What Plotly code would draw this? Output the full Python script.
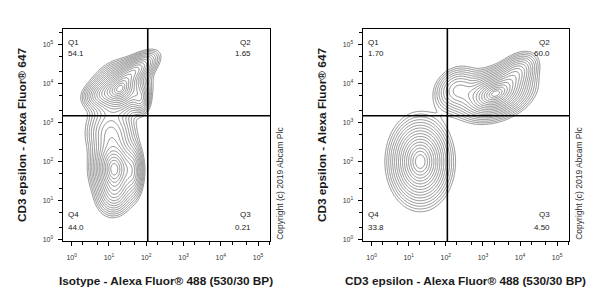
import numpy as np
import plotly.graph_objects as go

# ---- data: cell populations (log10 centres, log10 spreads, correlation, weight) ----
# left panel (Isotype)
left_cx = [1.30, 1.75, 0.75, 1.85, 1.14, 1.05, 1.15, 1.65]
left_cy = [3.85, 4.38, 3.72, 3.60, 1.82, 2.75, 1.15, 1.75]
left_sx = [0.34, 0.28, 0.24, 0.13, 0.28, 0.32, 0.24, 0.14]
left_sy = [0.31, 0.22, 0.18, 0.20, 0.38, 0.35, 0.28, 0.35]
left_rho = [0.2, 0.6, 0.2, 0.0, 0.0, 0.0, 0.1, 0.0]
left_w = [1.00, 0.50, 0.25, 0.30, 0.95, 0.35, 0.30, 0.30]
# right panel (CD3 epsilon)
right_cx = [1.31, 3.32, 2.30, 3.90]
right_cy = [2.00, 3.73, 3.85, 4.28]
right_sx = [0.37, 0.45, 0.30, 0.28]
right_sy = [0.50, 0.30, 0.28, 0.25]
right_rho = [0.0, 0.3, 0.2, 0.4]
right_w = [1.00, 1.05, 0.35, 0.40]

left_q = ["54.1", "1.65", "0.21", "44.0"]    # Q1, Q2, Q3, Q4
right_q = ["1.70", "60.0", "4.50", "33.8"]
quad_x = 110.0
quad_y = 1500.0
tick_exp = [0, 1, 2, 3, 4, 5]
x_titles = ["Isotype - Alexa Fluor® 488 (530/30 BP)", "CD3 epsilon - Alexa Fluor® 488 (530/30 BP)"]
y_title = "CD3 epsilon - Alexa Fluor® 647"
copyright_txt = "Copyright (c) 2019 Abcam Plc"

W, H = 600, 300
gx = np.linspace(-0.3, 5.4, 260)
gy = np.linspace(-0.1, 5.45, 260)
GX, GY = np.meshgrid(gx, gy)


def level_field(cx, cy, sx, sy, rho, w):
    d = np.zeros_like(GX)
    for a, b, s, t, r, ww in zip(cx, cy, sx, sy, rho, w):
        u = (GX - a) / s
        v = (GY - b) / t
        q = (u * u - 2 * r * u * v + v * v) / (1 - r * r)
        d += ww * np.exp(-0.5 * q)
    # "radius-like" contour variable so that levels are evenly spaced
    return -np.sqrt(2 * np.log(d.max() / (d + 1e-300)))


fig = go.Figure()
for i, z in enumerate([
    level_field(left_cx, left_cy, left_sx, left_sy, left_rho, left_w),
    level_field(right_cx, right_cy, right_sx, right_sy, right_rho, right_w),
]):
    fig.add_trace(go.Contour(
        x=10 ** gx, y=10 ** gy, z=z,
        xaxis="x" if i == 0 else "x2", yaxis="y" if i == 0 else "y2",
        contours=dict(start=-2.6, end=-0.15, size=0.14, coloring="lines"),
        colorscale=[[0, "#727272"], [1, "#727272"]],
        line=dict(width=0.8), showscale=False, hoverinfo="skip",
    ))

ticktext = [f"10<sup>{e}</sup>" for e in tick_exp]
tickvals = [10 ** e for e in tick_exp]
ax_common = dict(
    type="log", showgrid=False, zeroline=False, showline=True, mirror=True,
    linecolor="black", linewidth=1.2, ticks="outside", ticklen=4, tickwidth=1,
    tickcolor="black", tickvals=tickvals, ticktext=ticktext,
    tickfont=dict(family="Liberation Sans", size=7, color="#333"),
    minor=dict(ticks="outside", ticklen=2.5, tickcolor="black", tickwidth=0.8, showgrid=False),
)
xr = [-0.24, 5.32]
yr = [-0.04, 5.40]
y0, y1 = 1 - 242.7 / H, 1 - 29.3 / H
dom = [(62.7 / W, 270 / W), (362.7 / W, 569 / W)]
layout = dict(
    width=W, height=H, margin=dict(l=0, r=0, t=0, b=0),
    paper_bgcolor="white", plot_bgcolor="white", showlegend=False,
    xaxis=dict(ax_common, domain=dom[0], range=xr, anchor="y", ticklabelstandoff=5),
    yaxis=dict(ax_common, domain=[y0, y1], range=yr, anchor="x", ticklabelstandoff=3),
    xaxis2=dict(ax_common, domain=dom[1], range=xr, anchor="y2", ticklabelstandoff=5),
    yaxis2=dict(ax_common, domain=[y0, y1], range=yr, anchor="x2", ticklabelstandoff=3),
)
fig.update_layout(**layout)

title_font = dict(family="Liberation Sans", size=11.8, color="#1a1a1a")
small = dict(family="Liberation Sans", size=8, color="#222")
ann = []
shapes = []
for i in range(2):
    xa = "x" if i == 0 else "x2"
    ya = "y" if i == 0 else "y2"
    x0p = dom[i][0] * W
    x1p = dom[i][1] * W
    qv = left_q if i == 0 else right_q
    # quadrant lines
    shapes.append(dict(type="line", xref=xa, yref=ya + " domain", x0=quad_x, x1=quad_x, y0=0, y1=1,
                       line=dict(color="black", width=1.6)))
    shapes.append(dict(type="line", xref=xa + " domain", yref=ya, x0=0, x1=1, y0=quad_y, y1=quad_y,
                       line=dict(color="black", width=1.6)))
    # quadrant labels
    for lab, val, px, py, gap, anc in [("Q1", qv[0], x0p + 3, 43, 11, "left"),
                                       ("Q2", qv[1], x1p - 17, 43, 11, "right"),
                                       ("Q3", qv[2], x1p - 17, 216, 13, "right"),
                                       ("Q4", qv[3], x0p + 3, 216, 13, "left")]:
        ann.append(dict(x=px / W, y=1 - py / H, xref="paper", yref="paper", text=lab, showarrow=False,
                        xanchor=anc, yanchor="middle", font=small))
        ann.append(dict(x=px / W, y=1 - (py + gap) / H, xref="paper", yref="paper", text=val, showarrow=False,
                        xanchor=anc, yanchor="middle", font=small))
    # axis titles
    ann.append(dict(x=(x0p + x1p) / 2 / W, y=1 - 283 / H, xref="paper", yref="paper", text="<b>" + x_titles[i] + "</b>",
                    showarrow=False, xanchor="center", yanchor="middle", font=title_font))
    ann.append(dict(x=(22 + 300 * i) / W, y=1 - 136 / H, xref="paper", yref="paper", text="<b>" + y_title + "</b>",
                    showarrow=False, textangle=-90, xanchor="center", yanchor="middle", font=title_font))
    ann.append(dict(x=(x1p + 10) / W, y=1 - 185 / H, xref="paper", yref="paper", text=copyright_txt,
                    showarrow=False, textangle=-90, xanchor="center", yanchor="middle",
                    font=dict(family="Liberation Sans", size=8.5, color="#333")))
fig.update_layout(annotations=ann, shapes=shapes)
fig.write_html("out.html")
